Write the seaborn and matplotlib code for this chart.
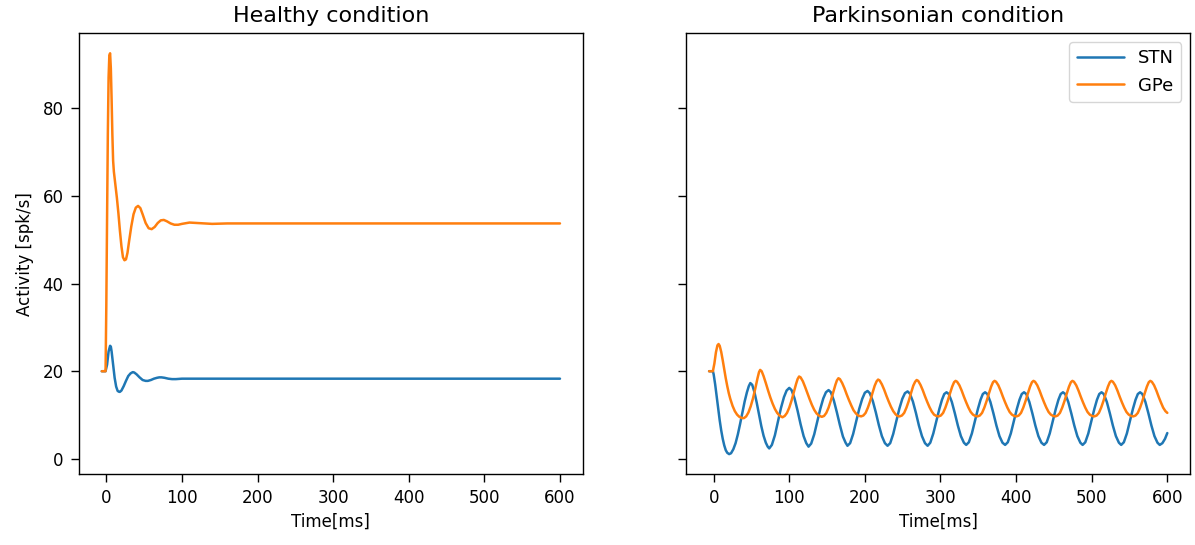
import matplotlib
matplotlib.use("Agg")
import matplotlib.pyplot as plt
import seaborn as sns

# Healthy condition
healthy_gpe_t = [-6, -1, 0, 1, 2, 3, 4, 5, 6, 7, 8, 9, 10, 12, 14, 16, 18, 20, 22, 24, 26, 28, 30,
                 33, 36, 39, 42, 45, 48, 52, 56, 60, 64, 68, 72, 76, 80, 85, 90, 95, 100, 110,
                 120, 140, 160, 200, 300, 400, 500, 600]
healthy_gpe = [20, 20, 35, 55, 74, 87, 92, 92.5, 89, 82, 74, 68, 65.5, 62.5, 59.5, 56, 52, 48.5,
               46, 45.3, 45.5, 47, 49.5, 53, 55.8, 57.3, 57.7, 57.2, 55.8, 53.8, 52.6, 52.4, 52.9,
               53.8, 54.4, 54.5, 54.2, 53.7, 53.4, 53.4, 53.6, 53.9, 53.8, 53.6, 53.7, 53.7, 53.7,
               53.7, 53.7, 53.7]
healthy_stn_t = [-6, -1, 1, 3, 5, 6, 7, 9, 11, 13, 15, 17, 18, 20, 23, 26, 29, 32, 35, 37, 40, 44,
                 48, 52, 55, 59, 63, 67, 70, 73, 77, 82, 87, 92, 100, 110, 130, 160, 200, 300,
                 400, 500, 600]
healthy_stn = [20, 20, 21.5, 24.5, 25.8, 25.6, 24.5, 21.5, 18.5, 16.5, 15.5, 15.3, 15.3, 15.6,
               16.6, 17.8, 18.9, 19.5, 19.8, 19.7, 19.3, 18.6, 18.0, 17.8, 17.8, 18.0, 18.3, 18.5,
               18.6, 18.6, 18.5, 18.3, 18.2, 18.2, 18.3, 18.3, 18.3, 18.3, 18.3, 18.3, 18.3,
               18.3, 18.3]

# Parkinsonian condition, one row per oscillation cycle
park_gpe_t = [-6, -1, 1, 3, 5, 6.5, 8, 10, 12, 14, 16, 18, 20, 22, 25, 28, 31, 34, 37,
              40, 43, 46, 49, 52, 55, 58, 60, 61.5, 63.5, 66, 69, 72, 75, 78, 81, 84, 87,
              91, 94, 97, 100, 103, 106, 109, 111, 113, 115, 118, 121, 124, 127, 130, 133, 136, 139,
              143, 146, 149, 152, 155, 158, 161, 163, 165, 167, 170, 173, 176, 179, 182, 185, 188, 191,
              195, 198, 201, 204, 207, 210, 213, 215.5, 217.5, 219.5, 222.5, 225.5, 228.5, 231.5, 234.5, 237.5, 240.5, 243,
              246, 249, 252, 255, 258, 261, 264, 266.5, 268.5, 270.5, 273.5, 276.5, 279.5, 282.5, 285.5, 288.5, 291.5, 294.5,
              297.5, 300.5, 303.5, 306.5, 309.5, 312.5, 315.5, 318, 320, 322, 325, 328, 331, 334, 337, 340, 343, 346,
              349, 352, 355, 358, 361, 364, 367, 369.5, 371.5, 373.5, 376.5, 379.5, 382.5, 385.5, 388.5, 391.5, 394.5, 397.5,
              400.5, 403.5, 406.5, 409.5, 412.5, 415.5, 418.5, 421, 423, 425, 428, 431, 434, 437, 440, 443, 446, 449,
              452, 455, 458, 461, 464, 467, 470, 472.5, 474.5, 476.5, 479.5, 482.5, 485.5, 488.5, 491.5, 494.5, 497.5, 500.5,
              503.5, 506.5, 509.5, 512.5, 515.5, 518.5, 521.5, 524, 526, 528, 531, 534, 537, 540, 543, 546, 549, 552,
              555, 558, 561, 564, 567, 570, 573, 575.5, 577.5, 579.5, 582.5, 585.5, 588.5, 591.5, 594.5, 597.5, 600]
park_gpe = [20, 20, 21.8, 24.3, 25.9, 26.2, 25.8, 24.4, 22.5, 20.4, 18.4, 16.6, 15.0, 13.7, 12.1, 10.9, 10.1, 9.6, 9.35,
            9.3, 9.7, 10.6, 12.0, 13.8, 16.0, 18.4, 19.8, 20.3, 20.0, 18.9, 17.3, 15.6, 14.0, 12.6, 11.4, 10.5, 9.9,
            9.5, 9.8, 10.5, 11.7, 13.3, 15.2, 17.1, 18.2, 18.8, 18.6, 17.7, 16.4, 15.0, 13.6, 12.3, 11.2, 10.4, 9.9,
            9.6, 9.8, 10.5, 11.7, 13.3, 15.1, 16.9, 17.9, 18.4, 18.2, 17.3, 16.1, 14.7, 13.4, 12.2, 11.1, 10.4, 9.9,
            9.7, 9.9, 10.5, 11.7, 13.2, 15.0, 16.7, 17.7, 18.1, 17.9, 17.0, 15.8, 14.4, 13.1, 11.9, 10.9, 10.2, 9.8,
            9.7, 9.9, 10.5, 11.7, 13.2, 15.0, 16.7, 17.6, 18.0, 17.8, 16.9, 15.7, 14.3, 13.0, 11.8, 10.8, 10.1, 9.8,
            9.7, 9.9, 10.5, 11.7, 13.2, 14.9, 16.5, 17.5, 17.8, 17.6, 16.8, 15.6, 14.2, 12.9, 11.7, 10.7, 10.1, 9.8,
            9.7, 9.9, 10.5, 11.7, 13.2, 14.9, 16.5, 17.5, 17.8, 17.6, 16.8, 15.6, 14.2, 12.9, 11.7, 10.7, 10.1, 9.8,
            9.7, 9.9, 10.5, 11.7, 13.2, 14.9, 16.5, 17.5, 17.8, 17.6, 16.8, 15.6, 14.2, 12.9, 11.7, 10.7, 10.1, 9.8,
            9.7, 9.9, 10.5, 11.7, 13.2, 14.9, 16.5, 17.5, 17.8, 17.6, 16.8, 15.6, 14.2, 12.9, 11.7, 10.7, 10.1, 9.8,
            9.7, 9.9, 10.5, 11.7, 13.2, 14.9, 16.5, 17.5, 17.8, 17.6, 16.8, 15.6, 14.2, 12.9, 11.7, 10.7, 10.1, 9.8,
            9.7, 9.9, 10.5, 11.7, 13.2, 14.9, 16.5, 17.5, 17.8, 17.6, 16.8, 15.6, 14.2, 12.9, 11.7, 10.9, 10.5]

park_stn_t = [-6, -1, 0, 2, 4, 6, 8, 10, 12, 14, 16, 18, 20.5, 23, 26, 29, 32, 35, 38, 41, 44, 46.5,
              48.5, 51, 54, 57, 60, 63, 66, 69, 71.5,
              73.5, 77, 81, 85, 89, 93, 96.5, 100, 103, 107, 111, 115, 119, 122.5,
              125.5, 129, 133, 137, 141, 145, 148.5, 152, 155, 159, 163, 167, 171, 174.5,
              177, 180.5, 184.5, 188.5, 192.5, 196.5, 200, 203.5, 206.5, 210.5, 214.5, 218.5, 222.5, 226.5,
              230, 233.5, 237.5, 241.5, 245.5, 249.5, 253, 256.5, 259.5, 263.5, 267.5, 271.5, 275.5, 279.5,
              283, 286.5, 290.5, 294.5, 298.5, 302, 305, 308, 311, 315, 319, 323, 327, 331,
              334, 337.5, 341.5, 345.5, 349.5, 353, 356, 359, 362, 366, 370, 374, 378, 382,
              385.5, 389, 393, 397, 401, 404.5, 407.5, 410.5, 413.5, 417.5, 421.5, 425.5, 429.5, 433.5,
              437, 440.5, 444.5, 448.5, 452.5, 456, 459, 462, 465, 469, 473, 477, 481, 485,
              488, 491.5, 495.5, 499.5, 503.5, 507, 510, 513, 516, 520, 524, 528, 532, 536,
              539, 542.5, 546.5, 550.5, 554.5, 558, 561, 564, 567, 571, 575, 579, 583, 587,
              590, 593.5, 597, 600]
park_stn = [20, 20, 19.3, 17.0, 14.2, 11.4, 8.8, 6.5, 4.6, 3.1, 2.0, 1.4, 1.1, 1.3, 2.2, 3.6, 5.6, 8.0, 10.6, 13.1, 15.2, 16.6,
            17.3, 16.9, 15.2, 12.8, 10.1, 7.5, 5.3, 3.7, 2.8,
            2.4, 3.2, 5.4, 8.5, 11.6, 14.1, 15.6, 16.2, 15.7, 13.8, 11.0, 7.9, 5.2, 3.6,
            2.8, 3.5, 5.6, 8.5, 11.4, 13.8, 15.2, 15.7, 15.2, 13.3, 10.6, 7.7, 5.1, 3.7,
            3.0, 3.6, 5.7, 8.6, 11.4, 13.7, 15.1, 15.5, 15.0, 13.2, 10.6, 7.7, 5.2, 3.6,
            3.0, 3.6, 5.7, 8.6, 11.4, 13.7, 15.0, 15.4, 14.9, 13.1, 10.5, 7.6, 5.2, 3.6,
            3.0, 3.7, 5.8, 8.6, 11.4, 13.5, 14.8, 15.2, 14.8, 13.0, 10.4, 7.6, 5.2, 3.7,
            3.2, 3.8, 5.8, 8.6, 11.4, 13.5, 14.8, 15.2, 14.8, 13.0, 10.4, 7.6, 5.2, 3.7,
            3.2, 3.8, 5.8, 8.6, 11.4, 13.5, 14.8, 15.2, 14.8, 13.0, 10.4, 7.6, 5.2, 3.7,
            3.2, 3.8, 5.8, 8.6, 11.4, 13.5, 14.8, 15.2, 14.8, 13.0, 10.4, 7.6, 5.2, 3.7,
            3.2, 3.8, 5.8, 8.6, 11.4, 13.5, 14.8, 15.2, 14.8, 13.0, 10.4, 7.6, 5.2, 3.7,
            3.2, 3.8, 5.8, 8.6, 11.4, 13.5, 14.8, 15.2, 14.8, 13.0, 10.4, 7.6, 5.2, 3.7,
            3.2, 3.6, 4.6, 5.9]

colors = {"STN": "#1f77b4", "GPe": "#ff7f0e"}

sns.set_theme(style="ticks", rc={
    "font.size": 12, "axes.titlesize": 16, "axes.labelsize": 12,
    "xtick.labelsize": 12, "ytick.labelsize": 12, "legend.fontsize": 13,
    "axes.edgecolor": "black", "axes.linewidth": 1.0,
    "text.color": "black", "axes.labelcolor": "black",
    "xtick.color": "black", "ytick.color": "black",
})
plt.rcParams["font.family"] = ["DejaVu Sans"]

fig, axs = plt.subplots(1, 2, figsize=(11.95, 5.45), dpi=100, sharey=True)
fig.subplots_adjust(left=0.066, right=0.996, top=0.939, bottom=0.130, wspace=0.205)

ax = axs[0]
sns.lineplot(x=healthy_stn_t, y=healthy_stn, ax=ax, color=colors["STN"], lw=1.8, estimator=None)
sns.lineplot(x=healthy_gpe_t, y=healthy_gpe, ax=ax, color=colors["GPe"], lw=1.8, estimator=None)
ax.set_title("Healthy condition", pad=8)
ax.set_xlabel("Time[ms]")
ax.set_ylabel("Activity [spk/s]", labelpad=6)

ax = axs[1]
sns.lineplot(x=park_stn_t, y=park_stn, ax=ax, color=colors["STN"], lw=1.8, estimator=None, label="STN")
sns.lineplot(x=park_gpe_t, y=park_gpe, ax=ax, color=colors["GPe"], lw=1.8, estimator=None, label="GPe")
ax.set_title("Parkinsonian condition", pad=8)
ax.set_xlabel("Time[ms]")
ax.legend(loc="upper right", frameon=True, handlelength=2.6)

for ax in axs:
    ax.set_xticks([0, 100, 200, 300, 400, 500, 600])
    ax.set_yticks([0, 20, 40, 60, 80])
    ax.tick_params(axis="both", direction="out", length=6, width=1, pad=5)

fig.savefig("out.png", dpi=100)
